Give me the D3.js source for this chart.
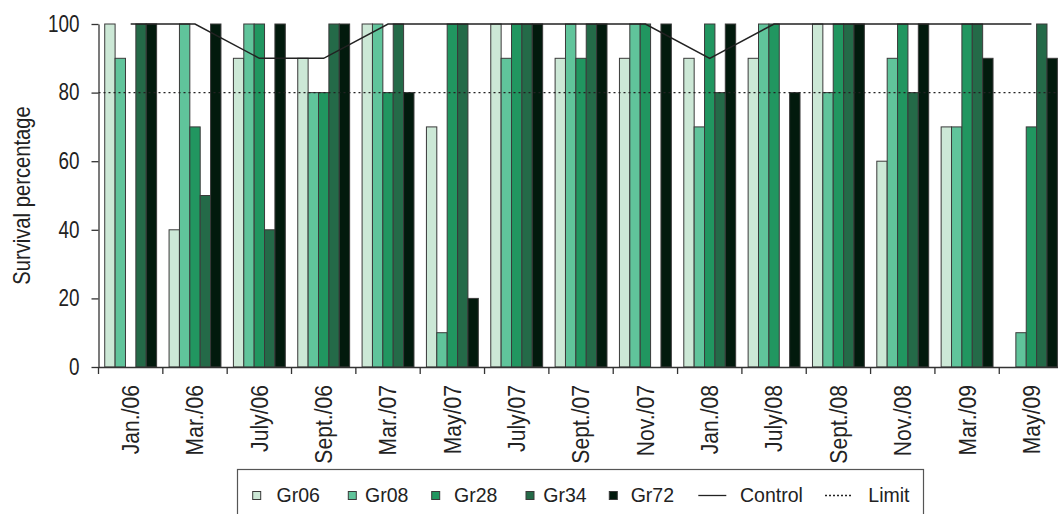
<!DOCTYPE html>
<html><head><meta charset="utf-8">
<script src="https://cdn.jsdelivr.net/npm/d3@7"></script>
<style>
html,body{margin:0;padding:0;background:#fff;}
svg{display:block;}
.narrow{font-family:'Liberation Sans',Arial,sans-serif;}
.leg{font-family:'Liberation Sans',Arial,sans-serif;}
</style>
</head><body>
<script>
const categories = ["Jan./06","Mar./06","July/06","Sept./06","Mar./07","May/07","July/07","Sept./07","Nov./07","Jan./08","July/08","Sept./08","Nov./08","Mar./09","May/09"];
const seriesNames = ["Gr06","Gr08","Gr28","Gr34","Gr72"];
const gr06 = [100,40,90,90,100,70,100,90,90,90,90,100,60,70,0];
const gr08 = [90,100,100,80,100,10,90,100,100,70,100,80,90,70,10];
const gr28 = [0,70,100,80,80,100,100,90,100,100,100,100,100,100,70];
const gr34 = [100,50,40,100,100,100,100,100,0,80,0,100,80,100,100];
const gr72 = [100,100,100,100,80,20,100,100,100,100,80,100,100,90,90];
const control = [100,100,90,90,100,100,100,100,100,90,100,100,100,100,100];
const limitValue = 80;
const yTicks = [0,20,40,60,80,100];
const colors = ["#cce8d6","#60c49b","#219660","#246a48","#021a0d"];

const W = 1058, H = 514;
const SX = 0.82; // horizontal condensing to mimic a narrow face
const SXL = 0.88;
const svg = d3.select("body").append("svg").attr("width",W).attr("height",H);
const m = {left:98.5, top:24, bottom:367};
const step = 64.34;
const x0 = d3.scaleBand().domain(categories).range([m.left, m.left + step*categories.length]).padding(0);
const x1 = d3.scaleBand().domain(seriesNames).range([0, x0.bandwidth()]).paddingInner(0).paddingOuter(0.6);
const y = d3.scaleLinear().domain([0,100]).range([m.bottom, m.top]);

const seriesVals = [gr06,gr08,gr28,gr34,gr72];
const barData = [];
categories.forEach((c,i)=>seriesNames.forEach((s,j)=>barData.push({c,s,j,v:seriesVals[j][i]})));

svg.append("g").selectAll("rect").data(barData.filter(d=>d.v>0)).join("rect")
  .attr("x",d=>x0(d.c)+x1(d.s))
  .attr("y",d=>y(d.v))
  .attr("width",x1.bandwidth())
  .attr("height",d=>y(0)-y(d.v))
  .attr("fill",d=>colors[d.j])
  .attr("stroke","#3a3a3a").attr("stroke-width",1);

// limit line
svg.append("line")
  .attr("x1",m.left).attr("x2",x0.range()[1])
  .attr("y1",y(limitValue)).attr("y2",y(limitValue))
  .attr("stroke","#222").attr("stroke-width",1.3).attr("stroke-dasharray","2,3");

// control line
const line = d3.line().x((d,i)=>x0(categories[i])+x0.bandwidth()/2).y(d=>y(d));
svg.append("path").datum(control).attr("d",line).attr("fill","none").attr("stroke","#222").attr("stroke-width",1.5);

// y axis
const yAxis = svg.append("g").attr("transform",`translate(${m.left},0)`)
  .call(d3.axisLeft(y).tickValues(yTicks).tickSize(7).tickPadding(12).tickSizeOuter(0));
yAxis.select(".domain").attr("stroke","#333").attr("stroke-width",1.3);
yAxis.selectAll(".tick line").attr("stroke","#333").attr("stroke-width",1.3);
yAxis.selectAll("text").attr("class","narrow").attr("font-size",23).attr("fill","#222")
  .attr("x",-19/SX).attr("transform",`scale(${SX},1)`);

// x axis
const xAxis = svg.append("g").attr("transform",`translate(0,${m.bottom})`)
  .call(d3.axisBottom(x0).tickSize(0).tickSizeOuter(0));
xAxis.select(".domain").attr("stroke","#333").attr("stroke-width",1.3);
xAxis.selectAll(".tick line").remove();
xAxis.selectAll("text")
  .attr("class","narrow").attr("font-size",24).attr("fill","#222")
  .attr("transform",`rotate(-90) scale(${SXL},1)`)
  .attr("text-anchor","end")
  .attr("x",-18/SXL).attr("y",0).attr("dy","0.35em");
// boundary ticks
const bounds = categories.map(c=>x0(c));
svg.append("g").selectAll("line").data(bounds).join("line")
  .attr("x1",d=>d).attr("x2",d=>d).attr("y1",m.bottom).attr("y2",m.bottom+7)
  .attr("stroke","#333").attr("stroke-width",1.3);

// y title
svg.append("text").attr("class","narrow").attr("font-size",23.5).attr("fill","#222")
  .attr("transform",`translate(30,${(m.top+m.bottom)/2}) rotate(-90) scale(0.86,1)`)
  .attr("text-anchor","middle").text("Survival percentage");

// legend
const lg = svg.append("g");
lg.append("rect").attr("x",237.5).attr("y",469.5).attr("width",686).attr("height",60)
  .attr("fill","#fff").attr("stroke","#555").attr("stroke-width",1.2);
const legItems = [
  {name:"Gr06",type:"box",mx:252.7,tx:276.5},
  {name:"Gr08",type:"box",mx:348.3,tx:365},
  {name:"Gr28",type:"box",mx:431.7,tx:454},
  {name:"Gr34",type:"box",mx:526,tx:543.3},
  {name:"Gr72",type:"box",mx:609.3,tx:630.7},
  {name:"Control",type:"line",mx:698.3,tx:740},
  {name:"Limit",type:"dot",mx:825,tx:868.3}
];
const ly = 495.5;
legItems.forEach((it,i)=>{
  if(it.type==="box"){
    lg.append("rect").attr("x",it.mx).attr("y",ly-4).attr("width",8).attr("height",8)
      .attr("fill",colors[i]).attr("stroke","#3a3a3a").attr("stroke-width",1);
  } else {
    lg.append("line").attr("x1",it.mx).attr("x2",it.mx+28).attr("y1",ly).attr("y2",ly)
      .attr("stroke","#222").attr("stroke-width",1.3)
      .attr("stroke-dasharray",it.type==="dot"?"2,2":null);
  }
  lg.append("text").attr("class","leg").attr("x",it.tx).attr("y",ly).attr("dy","0.35em")
    .attr("font-size",19.5).attr("fill","#222").text(it.name);
});
</script>
</body></html>
